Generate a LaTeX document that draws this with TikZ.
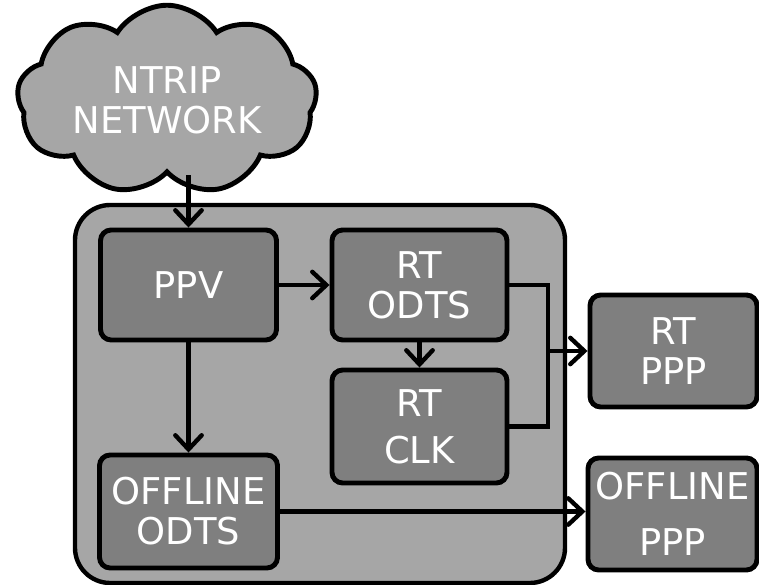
\documentclass[tikz,border=0pt]{standalone}
\usepackage{fontspec}
\setmainfont{DejaVu Sans}
\usetikzlibrary{arrows.meta,shapes.symbols}
\definecolor{lightfill}{HTML}{A6A6A6}
\definecolor{darkfill}{HTML}{7F7F7F}
\tikzset{
	block/.style={draw, line width=2.8pt, rounded corners=6pt, fill=darkfill, text=white, align=center, inner sep=0pt},
	link/.style={line width=2.5pt, -{Straight Barb[length=8pt,width=15pt,line cap=round]}},
	wire/.style={line width=2.5pt}
}
\begin{document}
\begin{tikzpicture}[font=\fontsize{21}{22.7}\selectfont]
			%%%%% START %%%%%
			\useasboundingbox (0, 0) rectangle (15.18, -11.7);
			
			\node[draw, line width=2.5pt, rounded corners=20pt, fill=lightfill, minimum width=9.8cm, minimum height=7.56cm] (proc) at (6.4, -7.88) {};
			
			\node[cloud, cloud puffs=9, cloud puff arc=115, aspect=1.8, draw, line width=2.8pt, fill=lightfill, text=white, align=center, minimum width=6cm, minimum height=3.4cm, inner sep=0pt] (ntrip) at (3.34, -2.0) {NTRIP\\NETWORK};
			
			\node[block, minimum width=3.52cm, minimum height=2.2cm] (ppv) at (3.77, -5.7) {PPV};
			\node[block, minimum width=3.5cm, minimum height=2.2cm] (rtodts) at (8.39, -5.7) {RT\\ODTS};
			\node[block, minimum width=3.5cm, minimum height=2.26cm] (rtclk) at (8.39, -8.53) {RT\\[4pt]CLK};
			\node[block, minimum width=3.56cm, minimum height=2.26cm] (offodts) at (3.77, -10.23) {OFFLINE\\ODTS};
			
			\node[block, minimum width=3.34cm, minimum height=2.24cm] (rtppp) at (13.47, -7.02) {RT\\PPP};
			\node[block, minimum width=3.38cm, minimum height=2.24cm] (offppp) at (13.45, -10.28) {OFFLINE\\[9pt]PPP};
			
			\coordinate (join) at (10.96, -7.02);
			
			\draw[link] (ppv.north |- ntrip.south) -- (ppv.north);
			\draw[link] (ppv.east) -- (rtodts.west);
			\draw[link] (rtodts.south) -- (rtclk.north);
			\draw[wire] (rtodts.east) -| (join) |- (rtclk.east);
			\draw[link] (join) -- (rtppp.west);
			\draw[link] (ppv.south) -- (offodts.north);
			\draw[link] (offodts.east) -- (offppp.west |- offodts.east);
			
			%%%%% END %%%%%
\end{tikzpicture}
\end{document}
